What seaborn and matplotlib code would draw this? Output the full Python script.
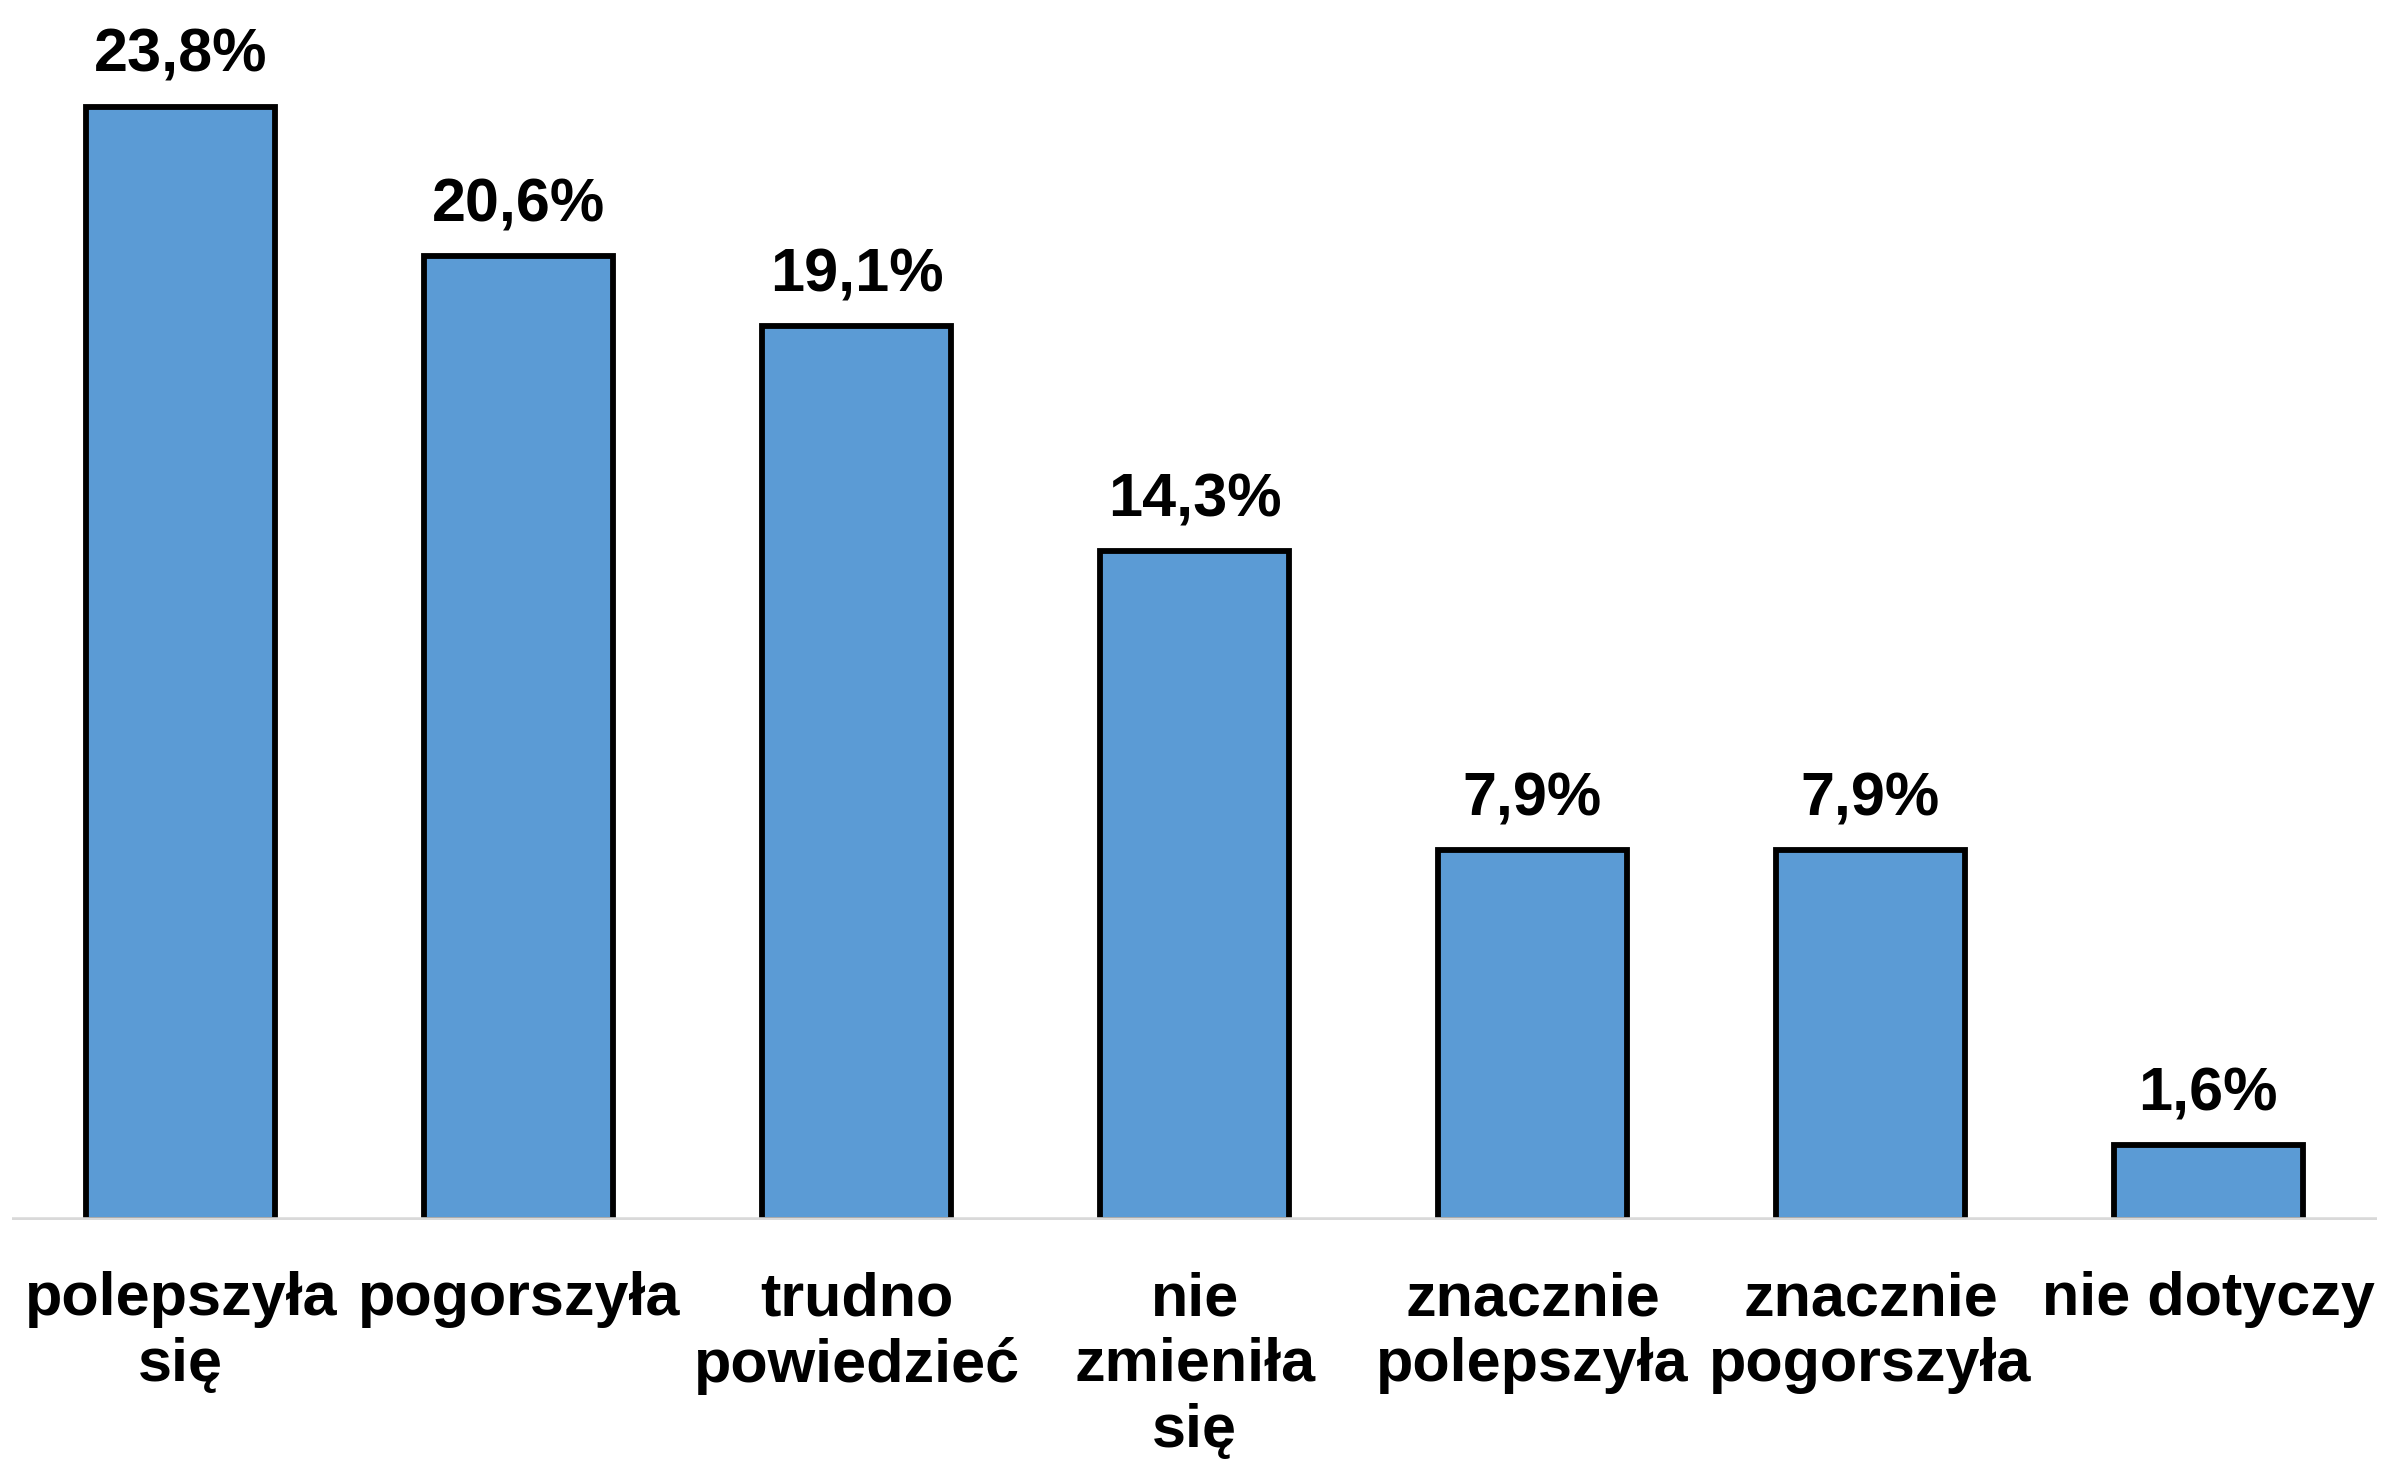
import numpy as np
import pandas as pd
import seaborn as sns
import matplotlib
matplotlib.use('Agg')
import matplotlib.pyplot as plt

# DATA
categories = ['polepszyła\nsię', 'pogorszyła', 'trudno\npowiedzieć', 'nie\nzmieniła\nsię',
              'znacznie\npolepszyła', 'znacznie\npogorszyła', 'nie dotyczy']
values = [23.8, 20.6, 19.1, 14.3, 7.9, 7.9, 1.6]

BAR_COLOR = '#5b9bd5'

sns.set_theme(style='white')
plt.rcParams['font.family'] = ['Liberation Sans', 'DejaVu Sans']
plt.rcParams['font.weight'] = 'bold'

df = pd.DataFrame({'cat': categories, 'val': values})

fig = plt.figure(figsize=(23.82, 14.66), dpi=100)
ax = fig.add_axes([0.005, 0.168, 0.993, 0.832])

sns.barplot(data=df, x='cat', y='val', color=BAR_COLOR, saturation=1,
            edgecolor='black', linewidth=4.2, width=0.56, ax=ax, zorder=2)

# labels above the bars
for i, v in enumerate(values):
    ax.annotate(f'{v:.1f}'.replace('.', ',') + '%', xy=(i, v),
                xytext=(0, 25), textcoords='offset points',
                ha='center', va='baseline', fontsize=44, fontweight='bold',
                color='black')

ax.axhline(0, color='#d9d9d9', linewidth=4, zorder=3)

ax.set_xlim(-0.5, len(categories) - 0.5)
ax.set_ylim(0, 26.08)
ax.set_xlabel('')
ax.set_ylabel('')
ax.set_yticks([])
ax.tick_params(axis='x', length=0, pad=37)
for lbl in ax.get_xticklabels():
    lbl.set_fontsize(44)
    lbl.set_fontweight('bold')
    lbl.set_color('black')
    lbl.set_linespacing(1.2)
for s in ax.spines.values():
    s.set_visible(False)

fig.savefig('out.png', dpi=100, facecolor='white')
